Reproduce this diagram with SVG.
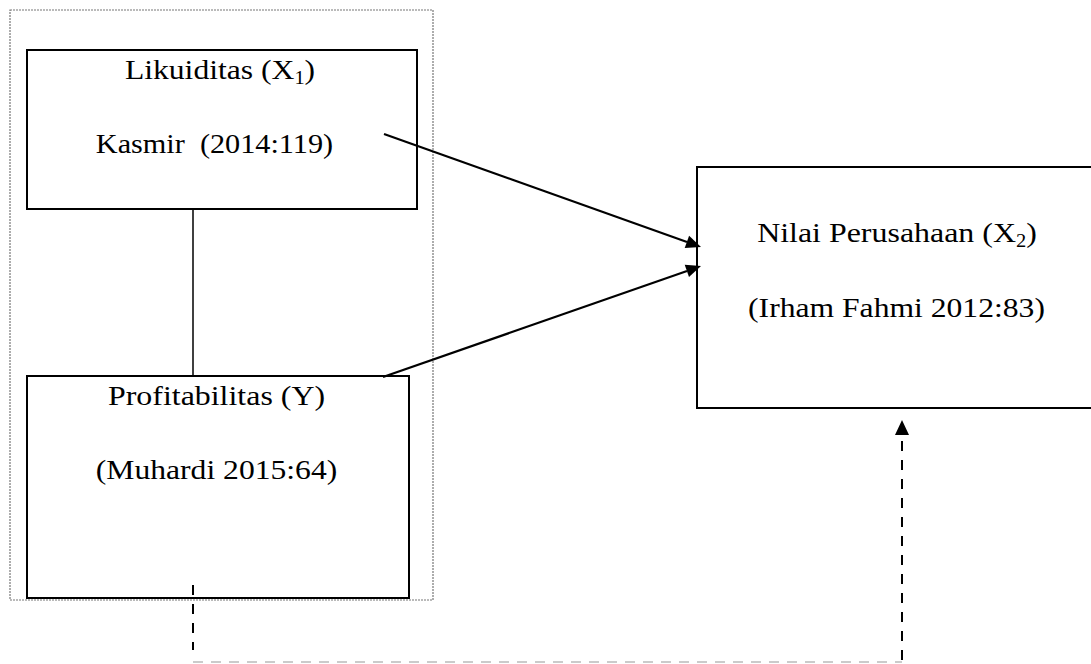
<svg xmlns="http://www.w3.org/2000/svg" width="1091" height="664" viewBox="0 0 1091 664">
<style>
.box{fill:none;stroke:#000;stroke-width:2}
.t{font-family:'Liberation Serif',serif;font-size:28px;fill:#000;text-anchor:middle}
.sub{font-size:18px}
.solid{stroke:#000;stroke-width:2.2;fill:none}
.dash{stroke:#000;stroke-width:2;fill:none;stroke-dasharray:10 9}
.head{fill:#000}
</style>
<rect width="1091" height="664" fill="#fff"/>
<g id="group-frame">
<rect x="10" y="10" width="423" height="590" fill="none" stroke="#777" stroke-width="1.2" stroke-dasharray="2 1"/>
</g>
<g id="node-likuiditas">
<rect class="box" x="27" y="50" width="390" height="159"/>
<text class="t" transform="translate(220,79) scale(1.13,1)">Likuiditas (X<tspan class="sub" dy="5">1</tspan><tspan dy="-5">)</tspan></text>
<text class="t" transform="translate(214.5,153) scale(1.08,1)" xml:space="preserve">Kasmir  (2014:119)</text>
</g>
<g id="node-profitabilitas">
<rect class="box" x="27" y="376" width="382" height="222"/>
<text class="t" transform="translate(216.5,405) scale(1.14,1)">Profitabilitas (Y)</text>
<text class="t" transform="translate(216.5,479) scale(1.13,1)">(Muhardi 2015:64)</text>
</g>
<g id="node-nilai">
<rect class="box" x="697" y="167" width="410" height="241"/>
<text class="t" transform="translate(897,242) scale(1.14,1)">Nilai Perusahaan (X<tspan class="sub" dy="5">2</tspan><tspan dy="-5">)</tspan></text>
<text class="t" transform="translate(896.5,317) scale(1.13,1)">(Irham Fahmi 2012:83)</text>
</g>
<g id="connectors">
<line class="solid" x1="193" y1="209" x2="193" y2="376" style="stroke-width:1.5"/>
<line class="solid" x1="384" y1="134" x2="687" y2="242"/>
<path class="head" d="M701,247 L684.7,248.1 L689.1,235.8 z"/>
<line class="solid" x1="383" y1="377" x2="687" y2="271"/>
<path class="head" d="M701,266 L689,277.1 L684.7,264.8 z"/>
<line class="dash" x1="193" y1="585" x2="193" y2="650"/>
<line x1="193" y1="662" x2="902" y2="662" stroke="#bbb" stroke-width="1.5" stroke-dasharray="10 8"/>
<line class="dash" x1="902" y1="660" x2="902" y2="437"/>
<path class="head" d="M902,420 L909,435 L895,435 z"/>
</g>
</svg>
